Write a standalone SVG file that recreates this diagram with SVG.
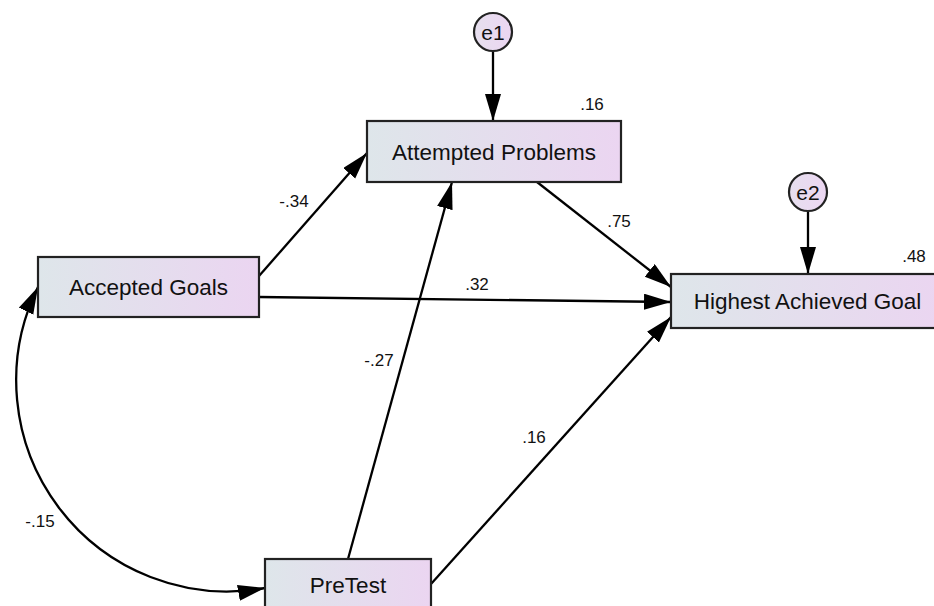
<svg xmlns="http://www.w3.org/2000/svg" width="934" height="606" viewBox="0 0 934 606">
  <defs>
    <linearGradient id="fill" x1="0" y1="0" x2="1" y2="0">
      <stop offset="0" stop-color="#dee6ea"/>
      <stop offset="1" stop-color="#ebd5f1"/>
    </linearGradient>
    <linearGradient id="fill-err" x1="0" y1="0" x2="1" y2="0">
      <stop offset="0" stop-color="#e6dfee"/>
      <stop offset="1" stop-color="#ecd6f2"/>
    </linearGradient>
    <marker id="head" markerUnits="userSpaceOnUse" markerWidth="28" markerHeight="17" refX="27" refY="8" orient="auto-start-reverse">
      <path d="M0,0 L27,8 L0,16 z" fill="#000"/>
    </marker>
    <style>
      .box { fill: url(#fill); stroke: #222; stroke-width: 2.2; }
      .circ { fill: url(#fill-err); stroke: #222; stroke-width: 2.2; }
      .lbl { font-family: "Liberation Sans", Arial, sans-serif; font-size: 22.5px; fill: #111; text-anchor: middle; }
      .err { font-family: "Liberation Sans", Arial, sans-serif; font-size: 21px; fill: #111; text-anchor: middle; }
      .num { font-family: "Liberation Sans", Arial, sans-serif; font-size: 17px; fill: #111; text-anchor: middle; }
      .edge { fill: none; stroke: #000; stroke-width: 2.3; marker-end: url(#head); }
    </style>
  </defs>
  <rect width="934" height="606" fill="#fff"/>

  <!-- paths and covariance -->
  <g id="connectors">
    <line class="edge" x1="259" y1="276" x2="367" y2="153"/>
    <line class="edge" x1="537" y1="182" x2="671" y2="287"/>
    <line class="edge" x1="259" y1="297" x2="671" y2="302"/>
    <line class="edge" x1="348" y1="559" x2="452" y2="182"/>
    <line class="edge" x1="431" y1="584" x2="671" y2="317"/>
    <line class="edge" x1="493" y1="51" x2="493" y2="121"/>
    <line class="edge" x1="808" y1="211" x2="808" y2="274"/>
    <path class="edge" d="M38,287 A211,211 0 0,0 265,588" marker-start="url(#head)"/>
    <text class="num" x="294" y="207">-.34</text>
    <text class="num" x="619" y="227">.75</text>
    <text class="num" x="477" y="290">.32</text>
    <text class="num" x="379" y="366">-.27</text>
    <text class="num" x="534" y="443">.16</text>
    <text class="num" x="40" y="527">-.15</text>
  </g>

  <g id="e1">
    <circle class="circ" cx="493" cy="32" r="19"/>
    <text class="err" x="493" y="39.5">e1</text>
  </g>
  <g id="e2">
    <circle class="circ" cx="808" cy="192" r="19"/>
    <text class="err" x="808" y="199.5">e2</text>
  </g>

  <g id="attempted-problems">
    <rect class="box" x="367" y="121" width="254" height="61"/>
    <text class="lbl" x="494" y="160">Attempted Problems</text>
    <text class="num" x="592" y="110">.16</text>
  </g>

  <g id="accepted-goals">
    <rect class="box" x="38" y="257" width="221" height="60"/>
    <text class="lbl" x="148.5" y="295">Accepted Goals</text>
  </g>

  <g id="highest-achieved-goal">
    <rect class="box" x="671" y="274" width="273" height="54"/>
    <text class="lbl" x="807.5" y="309">Highest Achieved Goal</text>
    <text class="num" x="914" y="262">.48</text>
  </g>

  <g id="pretest">
    <rect class="box" x="265" y="559" width="166" height="54"/>
    <text class="lbl" x="348" y="593">PreTest</text>
  </g>
</svg>
